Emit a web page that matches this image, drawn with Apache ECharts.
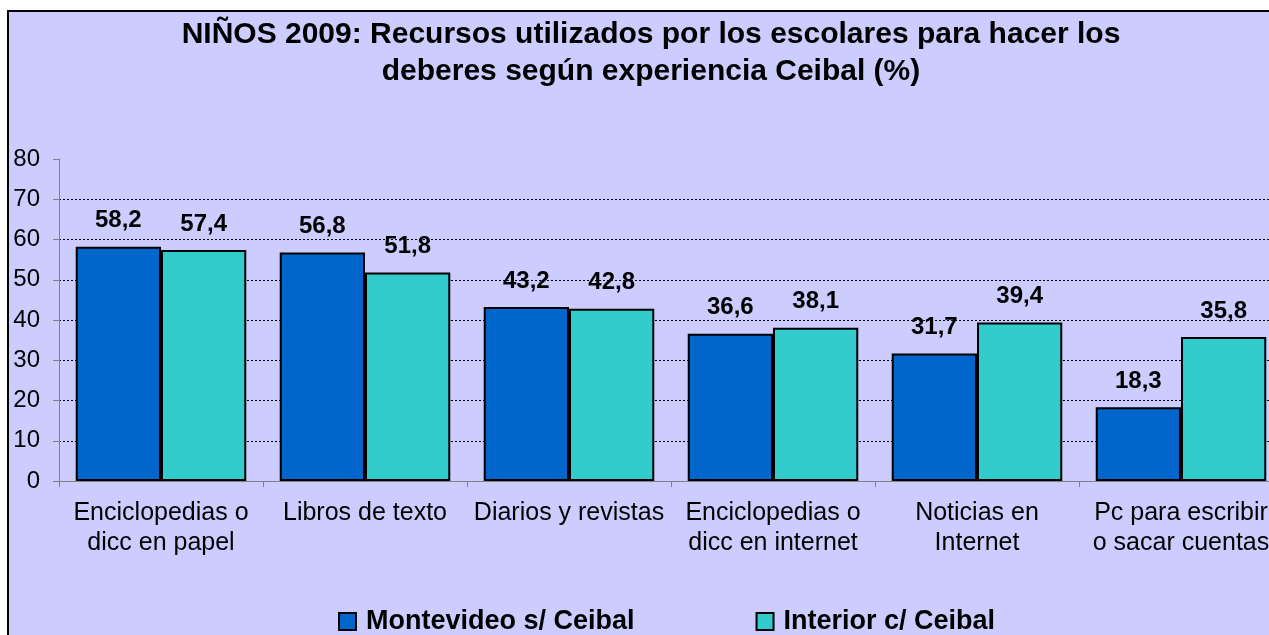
<!DOCTYPE html>
<html>
<head>
<meta charset="utf-8">
<script src="https://cdn.jsdelivr.net/npm/echarts@6/dist/echarts.min.js"></script>
<style>
html,body{margin:0;padding:0;background:#fff;overflow:hidden;width:1269px;height:635px;}
#c{width:1300px;height:635px;}
</style>
</head>
<body>
<div id="c"></div>
<script>
const categories = [
  'Enciclopedias o\ndicc en papel',
  'Libros de texto',
  'Diarios y revistas',
  'Enciclopedias o\ndicc en internet',
  'Noticias en\nInternet',
  'Pc para escribir\no sacar cuentas'
];
const montevideo = [58.2, 56.8, 43.2, 36.6, 31.7, 18.3];
const interior = [57.4, 51.8, 42.8, 38.1, 39.4, 35.8];
const seriesNames = ['Montevideo s/ Ceibal', 'Interior c/ Ceibal'];
const titleText = 'NIÑOS 2009: Recursos utilizados por los escolares para hacer los\ndeberes según experiencia Ceibal (%)';

const FONT = '"Liberation Sans", Arial, sans-serif';
const fmt = p => p.value.toFixed(1).replace('.', ',');

const chart = echarts.init(document.getElementById('c'), null, {renderer: 'canvas'});
const labelStyle = {
  show: true, position: 'top', distance: 14,
  formatter: fmt, fontFamily: FONT, fontWeight: 'bold', fontSize: 24, color: '#000'
};
chart.setOption({
  backgroundColor: '#fff',
  animation: false,
  graphic: [{
    type: 'rect', z: -10, silent: true,
    shape: {x: 8, y: 11, width: 1320, height: 700},
    style: {fill: '#CCCCFF', stroke: '#000', lineWidth: 2}
  }],
  title: {
    text: titleText,
    left: 646, top: 11, textAlign: 'center',
    textStyle: {fontFamily: FONT, fontWeight: 'bold', fontSize: 30, lineHeight: 37, color: '#000'}
  },
  legend: {
    left: 338, top: 608, padding: 0,
    itemWidth: 17, itemHeight: 17, itemGap: 121,
    icon: 'rect',
    itemStyle: {borderColor: '#000', borderWidth: 2},
    textStyle: {fontFamily: FONT, fontWeight: 'bold', fontSize: 27, color: '#000', padding: [0,0,0,5]},
    data: seriesNames
  },
  grid: {left: 59, top: 159, width: 1224, height: 322, containLabel: false},
  xAxis: {
    type: 'category', data: categories,
    axisLine: {lineStyle: {color: '#808080', width: 1}},
    axisTick: {show: true, length: 6, lineStyle: {color: '#808080'}},
    axisLabel: {fontFamily: FONT, fontSize: 25, color: '#000', lineHeight: 30, margin: 17, interval: 0}
  },
  yAxis: {
    type: 'value', min: 0, max: 80, interval: 10,
    axisLine: {show: true, lineStyle: {color: '#808080', width: 1}},
    axisTick: {show: true, length: 6, lineStyle: {color: '#808080'}},
    axisLabel: {fontFamily: FONT, fontSize: 24, color: '#000', margin: 19},
    splitLine: {show: true, lineStyle: {color: ['#000','#000','#000','#000','#000','#000','#000','#000','rgba(0,0,0,0)'], type: [2, 2], width: 1}}
  },
  series: [
    {
      name: seriesNames[0], type: 'bar', data: montevideo,
      barGap: '0%', barCategoryGap: '16.4%',
      itemStyle: {color: '#0066CC', borderColor: '#000', borderWidth: 2},
      label: labelStyle
    },
    {
      name: seriesNames[1], type: 'bar', data: interior,
      barGap: '0%', barCategoryGap: '16.4%',
      itemStyle: {color: '#33CCCC', borderColor: '#000', borderWidth: 2},
      label: labelStyle
    }
  ]
});
</script>
</body>
</html>
